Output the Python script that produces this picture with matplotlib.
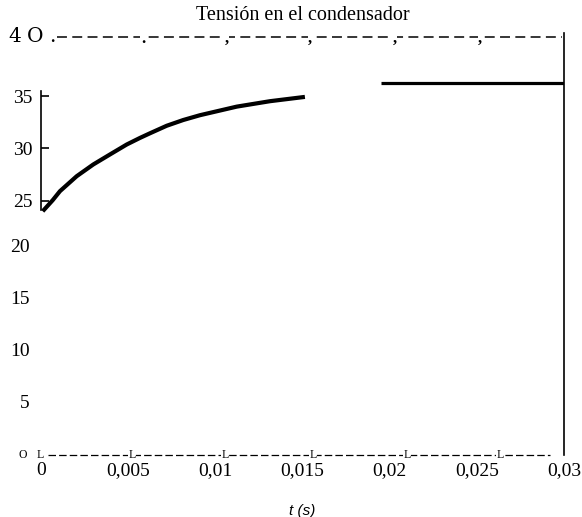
import matplotlib
matplotlib.use("Agg")
import matplotlib.pyplot as plt
from matplotlib.transforms import ScaledTranslation

# ---- data ----
title = "Tensión en el condensador"
xlabel = "t (s)"
t_curve = [0.00010, 0.00067, 0.00109, 0.00205, 0.00300, 0.00396, 0.00492,
           0.00568, 0.00625, 0.00721, 0.00816, 0.00912, 0.01123, 0.01314, 0.01514]
v_curve = [24.00, 25.05, 25.92, 27.35, 28.47, 29.43, 30.38,
           31.01, 31.45, 32.17, 32.72, 33.18, 34.00, 34.52, 34.93]
t_flat = [0.0195, 0.030]
v_flat = [36.24, 36.24]
x_ticks = [0, 0.005, 0.01, 0.015, 0.02, 0.025, 0.03]
x_ticklabels = ["0", "0,005", "0,01", "0,015", "0,02", "0,025", "0,03"]
y_major = [25, 30, 35]
y_major_labels = ["25", "30", "35"]
y_minor = [5, 10, 15, 20]
y_minor_labels = ["5", "10", "15", "20"]
top_text = ["4", "O", "."]
top_marks = [".", ",", ",", ",", ","]
bottom_first = "O"
bottom_marks = ["L", "L", "L", "L", "L", "L"]

# ---- decoration placement (scan artefacts) ----
top_text_x = [-0.00189, -0.00080, 0.00045]
top_marks_x = [0.00585, 0.01067, 0.01543, 0.0203, 0.02518]
bottom_marks_x = [-0.00006, 0.00522, 0.01056, 0.01561, 0.0210, 0.02633]

serif = ["Liberation Serif", "DejaVu Serif"]

fig = plt.figure(figsize=(5.82, 5.17), dpi=100)
ax = fig.add_axes([0.0704, 0.1058, 0.8986, 0.8296])
ax.set_xlim(0, 0.03)
ax.set_ylim(0, 41)

ax.plot(t_curve, v_curve, color="black", lw=3.0, solid_capstyle="butt",
        solid_joinstyle="round")
ax.plot(t_flat, v_flat, color="black", lw=2.3, solid_capstyle="butt")

for s in ["top", "bottom"]:
    ax.spines[s].set_visible(False)
ax.spines["left"].set_bounds(24.1, 35.5)
ax.spines["left"].set_linewidth(1.2)
ax.spines["right"].set_bounds(0.7, 41)
ax.spines["right"].set_linewidth(1.2)

ax.set_xticks(x_ticks)
ax.set_xticklabels(x_ticklabels, fontfamily=serif, fontsize=14)
ax.tick_params(axis="x", length=0, pad=0)

ax.set_yticks(y_major)
ax.set_yticklabels(y_major_labels, fontfamily=serif, fontsize=14)
ax.set_yticks(y_minor, minor=True)
ax.set_yticklabels(y_minor_labels, minor=True, fontfamily=serif, fontsize=14)
ax.tick_params(axis="y", which="major", direction="in", length=6, width=1.2, pad=6)
ax.tick_params(axis="y", which="minor", length=0, pad=8)
for lab in ax.get_yticklabels(minor=True):
    lab.set_transform(lab.get_transform() + ScaledTranslation(0, 0.08, fig.dpi_scale_trans))

ax.set_title(title, fontfamily=serif, fontsize=14.5, pad=10)
ax.set_xlabel(xlabel, fontfamily=["Liberation Sans", "DejaVu Sans"], style="italic",
              fontsize=11, labelpad=18)

# top dashed line with "40." and punctuation
ax.plot([0.0009, 0.0299], [40.7, 40.7], color="black", lw=1.1,
        dashes=(6.5, 3.5), clip_on=False)
for ch, x in zip(top_text, top_text_x):
    ax.text(x, 40.18, ch, fontfamily=["DejaVu Serif"], fontsize=14.5, ha="left",
            va="baseline", clip_on=False)
for ch, x in zip(top_marks, top_marks_x):
    ax.text(x, 40.1, ch, fontfamily=serif, fontsize=12, ha="center", va="baseline",
            fontweight="bold", clip_on=False,
            bbox=dict(facecolor="white", edgecolor="none", pad=0.3))

# bottom dashed line with "OL" marks
ax.plot([0.0004, 0.0292], [0.7, 0.7], color="black", lw=0.9,
        dashes=(6, 2.5), clip_on=False)
ax.text(-0.00105, 0.7, bottom_first, fontfamily=serif, fontsize=8.5, ha="center",
        va="center", clip_on=False)
for ch, x in zip(bottom_marks, bottom_marks_x):
    ax.text(x, 0.7, ch, fontfamily=serif, fontsize=8.5, ha="center", va="center",
            clip_on=False, bbox=dict(facecolor="white", edgecolor="none", pad=0.5))

fig.savefig("out.png", dpi=100)
